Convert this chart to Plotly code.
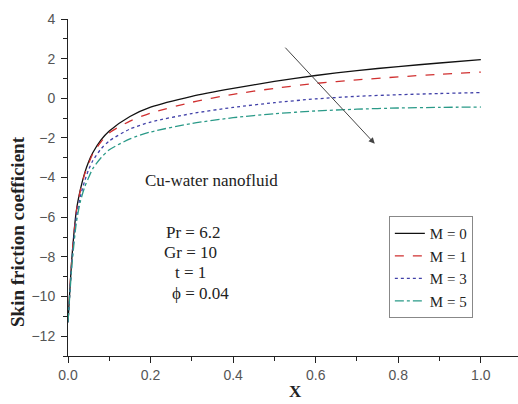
import plotly.graph_objects as go

x = [0, 0.005, 0.01, 0.02, 0.03, 0.04, 0.05, 0.06, 0.08, 0.1, 0.15, 0.2,
     0.3, 0.4, 0.5, 0.6, 0.7, 0.8, 0.9, 1.0]
m0 = [-11.3, -9.5, -7.9, -5.7, -4.6, -3.8, -3.2, -2.75, -2.1, -1.65, -0.92, -0.45,
      0.1, 0.5, 0.85, 1.15, 1.4, 1.6, 1.78, 1.95]
m1 = [-11.3, -9.5, -7.9, -5.75, -4.65, -3.85, -3.3, -2.8, -2.2, -1.75, -1.15, -0.75,
      -0.2, 0.2, 0.5, 0.75, 0.93, 1.08, 1.21, 1.32]
m3 = [-11.3, -9.6, -8.1, -6.0, -4.95, -4.2, -3.6, -3.15, -2.55, -2.15, -1.55, -1.2,
      -0.77, -0.46, -0.22, -0.03, 0.1, 0.18, 0.24, 0.29]
m5 = [-11.3, -9.7, -8.3, -6.3, -5.2, -4.5, -4.0, -3.55, -3.0, -2.6, -2.05, -1.7,
      -1.27, -0.98, -0.78, -0.64, -0.55, -0.49, -0.46, -0.44]

names = ["M = 0", "M = 1", "M = 3", "M = 5"]
series = [m0, m1, m3, m5]
colors = ["#111111", "#d03030", "#4040a8", "#2a9a88"]
dashes = ["solid", "dash", "dot", "dashdot"]

fig = go.Figure()
for n, s, c, d in zip(names, series, colors, dashes):
    fig.add_trace(go.Scatter(x=x, y=s, mode="lines", name=n,
                             line=dict(color=c, dash=d, width=1.3, shape="spline", smoothing=0.7)))

serif = "Liberation Serif"
axis_common = dict(showline=True, linecolor="#222", linewidth=1, showgrid=False, zeroline=False,
                   ticks="outside", ticklen=6, tickcolor="#222", tickwidth=1,
                   tickfont=dict(family="Liberation Sans", size=14, color="#555"))
fig.update_layout(
    width=518, height=404,
    margin=dict(l=68, r=0, t=19, b=48),
    paper_bgcolor="white", plot_bgcolor="white",
    showlegend=True,
    legend=dict(x=0.713, y=0.415, xanchor="left", yanchor="top",
                bordercolor="#888", borderwidth=1, bgcolor="white",
                font=dict(family=serif, size=15, color="#222"),
                tracegroupgap=0, itemwidth=30),
    xaxis=dict(range=[0, 1.09], tick0=0, dtick=0.2, tickformat=".1f",
               minor=dict(dtick=0.1, ticklen=4, ticks="outside", tickcolor="#222"),
               **axis_common),
    yaxis=dict(range=[-13, 4], tick0=0, dtick=2, ticklabelstandoff=3,
               minor=dict(dtick=1, ticklen=4, ticks="outside", tickcolor="#222"),
               **axis_common),
)

ann_font = dict(family=serif, size=17, color="#222")
texts = [("Cu-water nanofluid", 0.348, -4.13), ("Pr = 6.2", 0.303, -6.76),
         ("Gr = 10", 0.297, -7.77), ("t = 1", 0.297, -8.78), ("\u03d5 = 0.04", 0.32, -9.83)]
for t, tx, ty in texts:
    fig.add_annotation(x=tx, y=ty, xref="x", yref="y", text=t, showarrow=False, font=ann_font)

# arrow
fig.add_annotation(x=0.743, y=-2.29, ax=0.523, ay=2.63, xref="x", yref="y", axref="x", ayref="y",
                   text="", showarrow=True, arrowhead=2, arrowsize=1.2, arrowwidth=1, arrowcolor="#444")

# axis titles
fig.add_annotation(xref="paper", yref="paper", text="<b>Skin friction coefficient</b>",
                   showarrow=False, textangle=-90, font=dict(family=serif, size=19, color="#222"),
                   x=(18 - 68) / 450, y=(356 - 232) / 337, xanchor="center", yanchor="middle")
fig.add_annotation(xref="paper", yref="paper", text="<b>X</b>", showarrow=False,
                   font=dict(family=serif, size=17, color="#222"),
                   x=(295 - 68) / 450, y=(356 - 392) / 337, xanchor="center", yanchor="middle")

fig.write_html("out.html")
